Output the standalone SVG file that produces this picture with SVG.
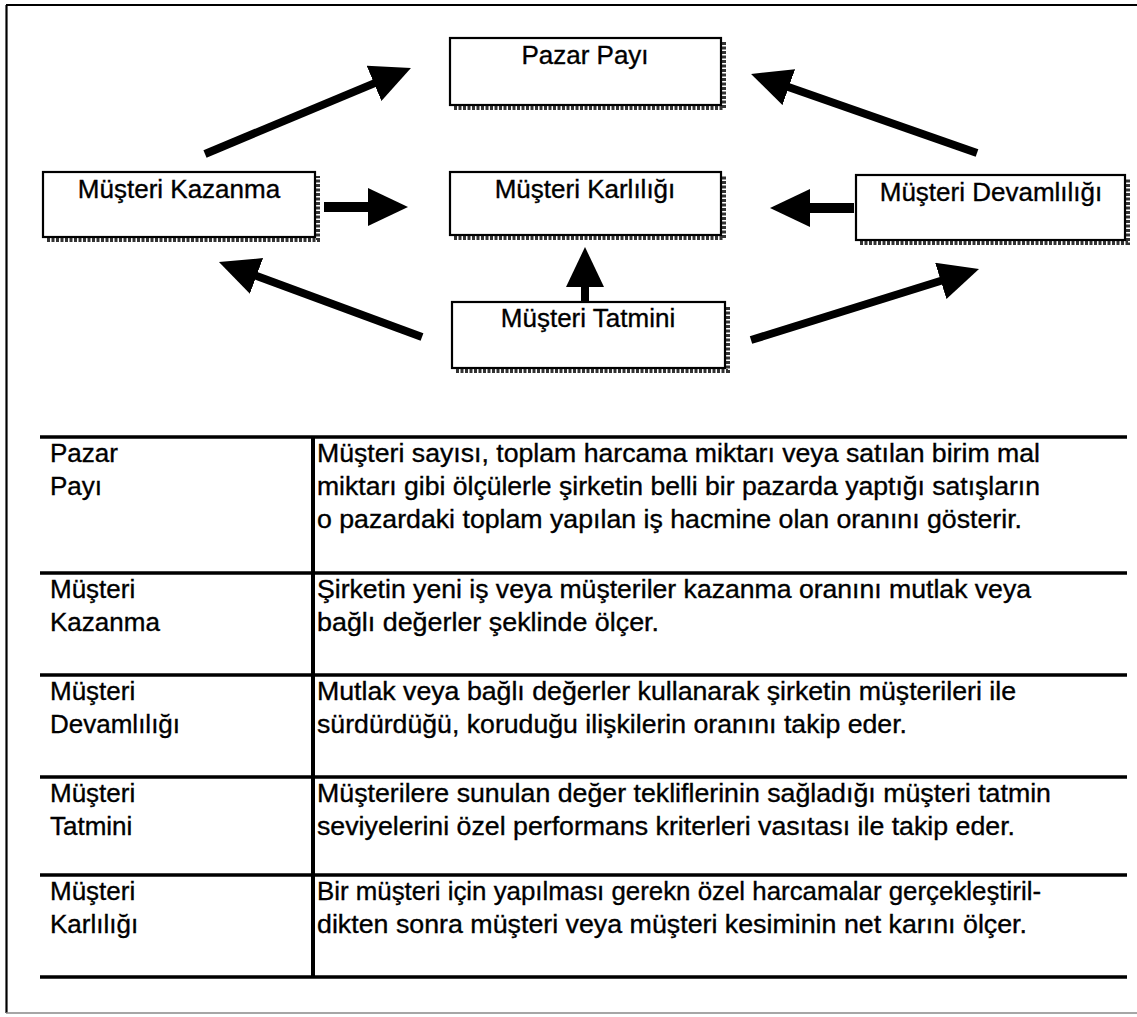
<svg xmlns="http://www.w3.org/2000/svg" width="1137" height="1017" viewBox="0 0 1137 1017">
  <style>
    text { font-family: "Liberation Sans", Arial, Helvetica, sans-serif; font-size: 26px; fill: #000; stroke: #000; stroke-width: 0.35; }
    .lbl { text-anchor: middle; }
    .box { fill: #fff; stroke: #000; stroke-width: 2.2; }
    .shadow { fill: none; stroke: #333; stroke-width: 4; stroke-dasharray: 3 1.5; }
    .arrow { stroke: #000; stroke-width: 8; fill: none; marker-end: url(#head); }
    .arrow.wide { stroke-width: 10; }
    .rule { stroke: #000; stroke-width: 3.5; }
  </style>
  <defs>
    <marker id="head" viewBox="0 0 40 38" refX="2" refY="19" markerUnits="userSpaceOnUse" markerWidth="40" markerHeight="38" orient="auto">
      <path d="M0,0 L40,19 L0,38 z" fill="#000"/>
    </marker>
  </defs>

  <rect width="1137" height="1017" fill="#fff"/>

  <!-- outer frame: top and left solid, bottom faint -->
  <g id="frame">
    <line x1="6" y1="5" x2="1137" y2="5" stroke="#000" stroke-width="2.2"/>
    <line x1="6.5" y1="5" x2="6.5" y2="1013" stroke="#000" stroke-width="2.2"/>
    <line x1="6" y1="1013" x2="1137" y2="1013" stroke="#888" stroke-width="1.5"/>
  </g>

  <!-- connectors -->
  <g id="connectors">
    <line class="arrow" x1="205" y1="154" x2="375.9" y2="82.6"/>
    <line class="arrow" x1="977" y1="153" x2="786.9" y2="86.5"/>
    <line class="arrow wide" x1="324" y1="207" x2="370" y2="207"/>
    <line class="arrow wide" x1="854" y1="208" x2="808" y2="208"/>
    <line class="arrow" x1="585" y1="302" x2="585" y2="285"/>
    <line class="arrow" x1="422" y1="337" x2="254.6" y2="275.2"/>
    <line class="arrow" x1="751" y1="340" x2="942.7" y2="280.3"/>
  </g>

  <!-- nodes -->
  <g id="pazar-payi">
    <path class="shadow" d="M454,108 H724 V42"/>
    <rect class="box" x="450" y="38" width="271" height="67"/>
    <text class="lbl" x="585" y="64">Pazar Payı</text>
  </g>
  <g id="musteri-kazanma">
    <path class="shadow" d="M47,240 H318 V176"/>
    <rect class="box" x="43" y="172" width="272" height="65"/>
    <text class="lbl" x="179" y="198">Müşteri Kazanma</text>
  </g>
  <g id="musteri-karliligi">
    <path class="shadow" d="M454,238 H724 V176"/>
    <rect class="box" x="450" y="172" width="271" height="63"/>
    <text class="lbl" x="585" y="198">Müşteri Karlılığı</text>
  </g>
  <g id="musteri-devamliligi">
    <path class="shadow" d="M860,243 H1128 V179"/>
    <rect class="box" x="856" y="175" width="269" height="65"/>
    <text class="lbl" x="991" y="201">Müşteri Devamlılığı</text>
  </g>
  <g id="musteri-tatmini">
    <path class="shadow" d="M456,371 H728 V306"/>
    <rect class="box" x="452" y="302" width="273" height="66"/>
    <text class="lbl" x="588" y="327">Müşteri Tatmini</text>
  </g>

  <!-- definitions table -->
  <g id="table">
    <line class="rule" x1="40" y1="437" x2="1127" y2="437"/>
    <line class="rule" x1="40" y1="573" x2="1127" y2="573"/>
    <line class="rule" x1="40" y1="675" x2="1127" y2="675"/>
    <line class="rule" x1="40" y1="777" x2="1127" y2="777"/>
    <line class="rule" x1="40" y1="875" x2="1127" y2="875"/>
    <line class="rule" x1="40" y1="977" x2="1127" y2="977"/>
    <line x1="313" y1="437" x2="313" y2="977" stroke="#000" stroke-width="4"/>

    <text x="50" y="462">Pazar</text>
    <text x="50" y="495">Payı</text>
    <text x="317" y="462" textLength="723" lengthAdjust="spacingAndGlyphs">Müşteri sayısı, toplam harcama miktarı veya satılan birim mal</text>
    <text x="317" y="495" textLength="723" lengthAdjust="spacingAndGlyphs">miktarı gibi ölçülerle şirketin belli bir pazarda yaptığı satışların</text>
    <text x="317" y="528" textLength="705" lengthAdjust="spacingAndGlyphs">o pazardaki toplam yapılan iş hacmine olan oranını gösterir.</text>

    <text x="50" y="598">Müşteri</text>
    <text x="50" y="631">Kazanma</text>
    <text x="317" y="598" textLength="714" lengthAdjust="spacingAndGlyphs">Şirketin yeni iş veya müşteriler kazanma oranını mutlak veya</text>
    <text x="317" y="631" textLength="342" lengthAdjust="spacingAndGlyphs">bağlı değerler şeklinde ölçer.</text>

    <text x="50" y="700">Müşteri</text>
    <text x="50" y="733">Devamlılığı</text>
    <text x="317" y="700" textLength="699" lengthAdjust="spacingAndGlyphs">Mutlak veya bağlı değerler kullanarak şirketin müşterileri ile</text>
    <text x="317" y="733" textLength="590" lengthAdjust="spacingAndGlyphs">sürdürdüğü, koruduğu ilişkilerin oranını takip eder.</text>

    <text x="50" y="802">Müşteri</text>
    <text x="50" y="835">Tatmini</text>
    <text x="317" y="802" textLength="734" lengthAdjust="spacingAndGlyphs">Müşterilere sunulan değer tekliflerinin sağladığı müşteri tatmin</text>
    <text x="317" y="835" textLength="698" lengthAdjust="spacingAndGlyphs">seviyelerini özel performans kriterleri vasıtası ile takip eder.</text>

    <text x="50" y="900">Müşteri</text>
    <text x="50" y="933">Karlılığı</text>
    <text x="317" y="900" textLength="724" lengthAdjust="spacingAndGlyphs">Bir müşteri için yapılması gerekn özel harcamalar gerçekleştiril-</text>
    <text x="317" y="933" textLength="710" lengthAdjust="spacingAndGlyphs">dikten sonra müşteri veya müşteri kesiminin net karını ölçer.</text>
  </g>
</svg>
